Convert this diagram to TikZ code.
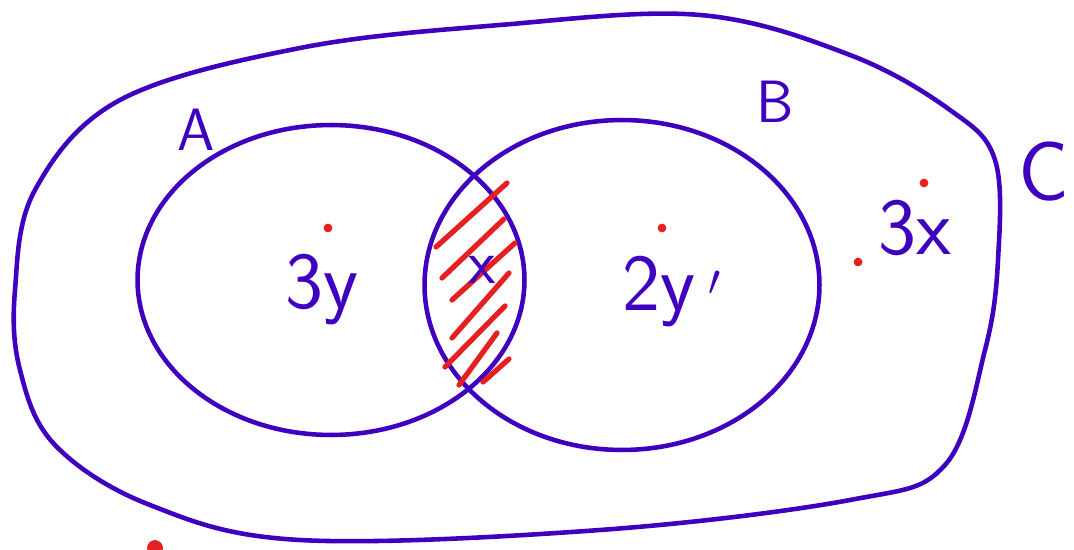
\documentclass[tikz,border=0pt]{standalone}
\usepackage{tikz}
\usetikzlibrary{shapes.geometric, positioning}
\definecolor{penblue}{RGB}{62,0,190}
\definecolor{penred}{RGB}{228,32,32}
\tikzstyle{pen} = [draw=penblue, line width=2.6pt, line cap=round, line join=round]
\tikzstyle{hatch} = [draw=penred, line width=3pt, line cap=round]
\tikzstyle{setbox} = [ellipse, pen, inner sep=0pt]
\tikzstyle{letter} = [text=penblue, font=\sffamily\fontsize{34}{38}\selectfont, inner sep=0pt]
\tikzstyle{term} = [text=penblue, font=\sffamily\fontsize{46}{50}\selectfont, inner sep=0pt]
\tikzstyle{dot} = [circle, fill=penred, inner sep=0pt, minimum size=5pt]

\begin{document}
\begin{tikzpicture}[x=0.02cm, y=-0.02cm]
    \useasboundingbox (0,0) rectangle (1074,550);
    % universe C
    \draw[pen] plot[smooth cycle, tension=0.6] coordinates {(15,290) (35,190) (120,100) (300,48) (500,25) (700,15) (850,55) (950,110) (995,160) (998,260) (985,350) (945,465) (850,500) (600,530) (300,540) (150,505) (55,445) (20,370)};
    % sets A and B
    \node (setA) [setbox, minimum width=7.74cm, minimum height=6.2cm] at (331,280) {};
    \node (setB) [setbox, minimum width=7.9cm, minimum height=6.6cm] at (622,285) {};
    % hatching of A and B
    \draw[hatch] (436,247) -- (507,183);
    \draw[hatch] (442,278) -- (504,219);
    \draw[hatch] (452,300) -- (515,243);
    \draw[hatch] (452,338) -- (509,273);
    \draw[hatch] (445,367) -- (505,306);
    \draw[hatch] (459,385) -- (497,333);
    \draw[hatch] (483,382) -- (509,359);
    % labels
    \node (labA) [letter] at (196,130) {A};
    \node (labB) [letter] at (775,102) {B};
    \node (labC) [letter, anchor=west, font=\sffamily\fontsize{48}{52}\selectfont] at (1018,172) {C};
    \node (onlyA) [term] at (322,290) {3y};
    \node (both)  [term, font=\sffamily\fontsize{36}{40}\selectfont] at (482,270) {x};
    \node (onlyB) [term] at (672,292) {2y\,$'$};
    \node (rest)  [term] at (915,228) {3x};
    % stray dots
    \node (dotA) [dot] at (328,228) {};
    \node (dotB) [dot] at (662,228) {};
    \node (dotC) [dot] at (858,262) {};
    \node (dotD) [dot] at (924,183) {};
    \node (dotE) [dot, minimum size=9pt] at (155,548) {};
\end{tikzpicture}
\end{document}
